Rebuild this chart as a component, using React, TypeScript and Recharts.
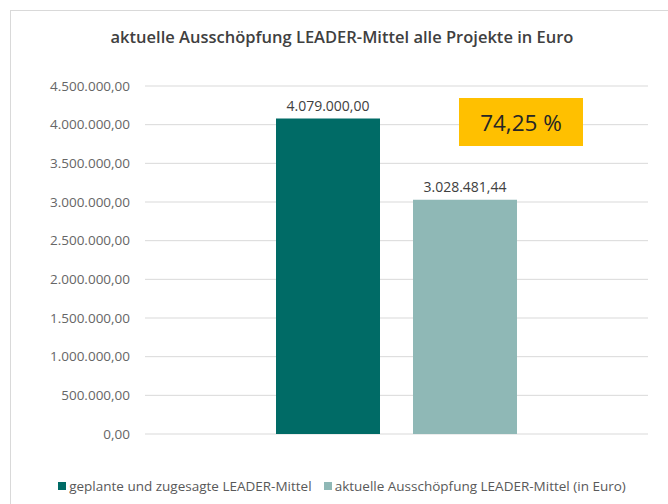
import { BarChart, Bar, XAxis, YAxis, CartesianGrid, LabelList, Legend } from "recharts";

const title = "aktuelle Ausschöpfung  LEADER-Mittel alle Projekte in Euro";
const categories = ["Projekte"];
const geplant = [4079000.0];
const ausgeschoepft = [3028481.44];
const yTicks = [0, 500000, 1000000, 1500000, 2000000, 2500000, 3000000, 3500000, 4000000, 4500000];
const seriesNames = ["geplante und zugesagte LEADER-Mittel", "aktuelle Ausschöpfung LEADER-Mittel (in Euro)"];
const colors = ["#006b66", "#8fb8b6"];

const data = categories.map((name, i) => ({ name, geplant: geplant[i], ausgeschoepft: ausgeschoepft[i] }));

const fmt = (v: number) =>
  v.toLocaleString("de-DE", { minimumFractionDigits: 2, maximumFractionDigits: 2 });

const quote = (ausgeschoepft[0] / geplant[0]) * 100;
const quoteText = quote.toLocaleString("de-DE", { minimumFractionDigits: 2, maximumFractionDigits: 2 }) + " %";

const font = "'Open Sans', sans-serif";

function LegendRow() {
  return (
    <div style={{ display: "flex", justifyContent: "center", gap: 12, fontFamily: font, fontSize: 13.5, color: "#595959", lineHeight: "18px" }}>
      {seriesNames.map((n, i) => (
        <span key={n} style={{ display: "flex", alignItems: "center" }}>
          <span style={{ width: 8, height: 8, background: colors[i], display: "inline-block", marginRight: 3 }} />
          {n}
        </span>
      ))}
    </div>
  );
}

export default function App() {
  return (
    <div style={{ position: "absolute", left: 0, top: 0, width: 668, height: 504, background: "#fff", overflow: "hidden" }}>
      <div
        style={{
          position: "absolute",
          left: 10,
          top: 10,
          width: 700,
          height: 520,
          borderTop: "1px solid #d9d9d9",
          borderLeft: "1px solid #d9d9d9",
        }}
      />
      <div
        style={{
          position: "absolute",
          top: 26,
          left: 10,
          width: 664,
          textAlign: "center",
          fontFamily: font,
          fontSize: 16.5,
          lineHeight: "22px",
          fontWeight: 600,
          color: "#404040",
        }}
      >
        {title}
      </div>
      <BarChart
        width={668}
        height={504}
        data={data}
        margin={{ top: 86, right: 20, bottom: 70, left: 0 }}
        barCategoryGap={131}
        barGap={33}
        style={{ position: "absolute", left: 0, top: 0 }}
      >
        <CartesianGrid vertical={false} stroke="#d9d9d9" />
        <XAxis dataKey="name" hide />
        <YAxis
          width={145}
          domain={[0, 4500000]}
          ticks={yTicks}
          tickFormatter={fmt}
          axisLine={false}
          tickLine={false}
          tickSize={0}
          tickMargin={15}
          tick={{ fill: "#666666", fontSize: 13.5, fontFamily: font }}
        />
        <Legend
          verticalAlign="middle"
          align="center"
          layout="horizontal"
          wrapperStyle={{ top: 477, left: 10, width: 664 }}
          content={() => <LegendRow />}
        />
        <Bar dataKey="geplant" name={seriesNames[0]} fill={colors[0]} isAnimationActive={false}>
          <LabelList dataKey="geplant" position="top" offset={8} formatter={(v: any) => fmt(Number(v))} fill="#404040" fontSize={14} fontFamily={font} />
        </Bar>
        <Bar dataKey="ausgeschoepft" name={seriesNames[1]} fill={colors[1]} isAnimationActive={false}>
          <LabelList dataKey="ausgeschoepft" position="top" offset={8} formatter={(v: any) => fmt(Number(v))} fill="#404040" fontSize={14} fontFamily={font} />
        </Bar>
      </BarChart>
      <div
        style={{
          position: "absolute",
          left: 459,
          top: 98,
          width: 124,
          height: 48,
          background: "#ffc000",
          display: "flex",
          alignItems: "center",
          justifyContent: "center",
          fontFamily: font,
          fontSize: 22.5,
          color: "#262626",
        }}
      >
        {quoteText}
      </div>
    </div>
  );
}
